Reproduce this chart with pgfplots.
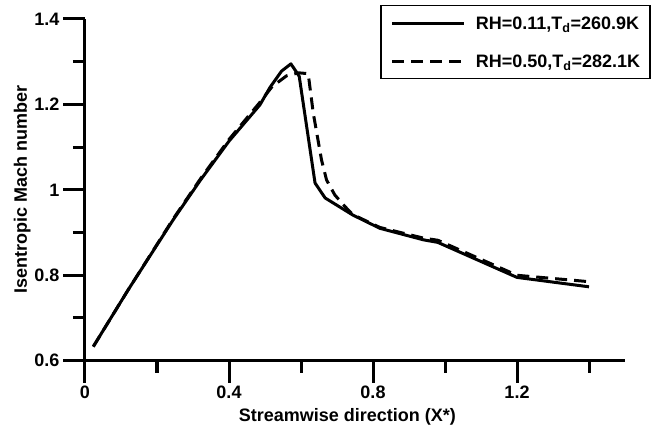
\documentclass[border=0pt]{standalone}
\usepackage{fontspec}
\setmainfont{Liberation Sans}
\usepackage{pgfplots}
\pgfplotsset{compat=1.18}
\newcommand\lblfont{\bfseries\fontsize{18}{21}\selectfont}
\begin{document}
\begin{tikzpicture}
\path[use as bounding box] (-85pt,-72.3pt) rectangle (570pt,360.7pt);
\begin{axis}[
  scale only axis, width=540pt, height=341.7pt,
  at={(0pt,0pt)}, anchor=south west,
  xmin=0, xmax=1.5, ymin=0.6, ymax=1.4,
  xtick={0,0.4,0.8,1.2}, minor xtick={0.2,0.6,1.0,1.4},
  ytick={0.6,0.8,1,1.2,1.4}, minor ytick={0.7,0.9,1.1,1.3},
  axis lines=left, axis line style={-, line width=3pt},
  tick align=outside, major tick length=22pt, minor tick length=12pt,
  tick style={black, line width=3pt},
  ticklabel style={font=\lblfont},
  /pgf/number format/assume math mode=true,
  xlabel={Streamwise direction (X*)},
  xlabel style={font=\lblfont, at={(axis description cs:0.486,-0.179)}, anchor=base, inner sep=0pt},
  ylabel={Isentropic Mach number},
  ylabel style={font=\lblfont, at={(axis description cs:-0.1074,0.5)}, anchor=base, inner sep=0pt},
  legend style={at={(axis description cs:1.0481,1.041)}, anchor=north east,
    draw=black, line width=1.5pt, fill=white, font=\lblfont,
    inner xsep=10pt, inner ysep=11pt, row sep=25pt, column sep=10pt,
    nodes={inner sep=0pt, text height=13pt, text depth=0pt, anchor=base west}},
  legend image code/.code={\draw[#1] (0pt,6.5pt) -- (72pt,6.5pt);},
  clip=false,
]
\addplot[black, line width=3pt, line join=round] coordinates {
  (0.023,0.633) (0.12,0.766) (0.245,0.930) (0.32,1.022) (0.40,1.114)
  (0.486,1.199) (0.514,1.240) (0.546,1.278) (0.572,1.295) (0.595,1.266)
  (0.639,1.016) (0.667,0.981) (0.744,0.941) (0.819,0.910) (0.94,0.883)
  (0.98,0.877) (1.2,0.795) (1.4,0.773)
};
\addlegendentry{RH=0.11,T\textsubscript{d}=260.9K}
\addplot[black, line width=3pt, line join=round, dash pattern=on 12pt off 7pt] coordinates {
  (0.023,0.633) (0.12,0.766) (0.245,0.932) (0.32,1.025) (0.40,1.118)
  (0.486,1.205) (0.52,1.242) (0.56,1.267) (0.593,1.274) (0.62,1.272)
  (0.634,1.18) (0.657,1.07) (0.671,1.023) (0.694,0.988) (0.722,0.961)
  (0.744,0.942) (0.819,0.912) (0.94,0.887) (0.98,0.882) (1.2,0.800)
  (1.4,0.785)
};
\addlegendentry{RH=0.50,T\textsubscript{d}=282.1K}
\end{axis}
\end{tikzpicture}
\end{document}
